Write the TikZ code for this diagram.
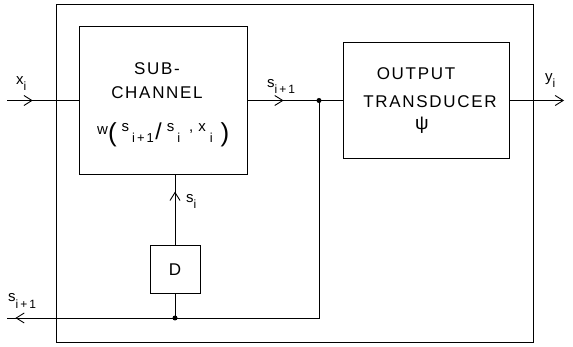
\documentclass[tikz,border=0pt]{standalone}
\usepackage{fontspec}
\setmainfont{Liberation Sans}
\newfontfamily\capsfont{Liberation Sans}[LetterSpace=10]
\usetikzlibrary{arrows.meta, decorations.markings, positioning}

\newcommand{\lsub}[1]{\raisebox{-6pt}{\fontsize{12}{12}\selectfont #1}}
\newcommand{\fsub}[1]{\raisebox{-8pt}{\fontsize{13}{13}\selectfont #1}}
\newcommand{\fup}[1]{\raisebox{3pt}{#1}}
\newcommand{\bigpar}[1]{\raisebox{-7pt}{\fontsize{26}{26}\selectfont #1}}
\newcommand{\ipl}{i\kern2pt+\kern2pt1}

\begin{document}
\begin{tikzpicture}[x=1pt, y=-1pt,
    blk/.style={rectangle, draw, line width=0.9pt, inner sep=0pt},
    wire/.style={line width=0.9pt},
    mid/.style={postaction={decorate}, decoration={markings,
        mark=at position #1 with {\arrow{Straight Barb[length=8pt, width=10pt, line width=0.9pt]}}}},
    dot/.style={circle, fill, inner sep=0pt, minimum size=5pt},
    caps/.style={font=\capsfont\fontsize{17}{17}\selectfont, inner sep=0pt, anchor=base},
    lbl/.style={font=\fontsize{15}{15}\selectfont, inner sep=0pt, anchor=base west}]

\useasboundingbox (0,0) rectangle (573,347);

%% Blocks: outer channel, sub-channel, output transducer, delay
\node[blk, minimum width=477, minimum height=338] (chan) at (294.5,173) {};
\node[blk, minimum width=168, minimum height=148] (sub)  at (163,100.5) {};
\node[blk, minimum width=166, minimum height=116] (tr)   at (426,100.5) {};
\node[blk, minimum width=50,  minimum height=48]  (dly)  at (175,269) {};

%% Block texts
\node[caps] (subA) at (157,75)  {SUB-};
\node[caps] (subB) at (157,99)  {CHANNEL};
\node[lbl, font=\fontsize{15}{15}\selectfont] (subC) at (97,135)
    {w\bigpar{(}\kern5pt\fup{s}\kern3pt\fsub{\ipl}\kern1.5pt\raisebox{-5pt}{\fontsize{23}{23}\selectfont/}\kern5pt\fup{s}\kern3pt\fsub{i}\kern9pt\fup{,}\kern5pt\fup{x}\kern4pt\fsub{i}\kern8pt\bigpar{)}};
\node[caps] (trA) at (416,80)  {OUTPUT};
\node[caps] (trB) at (430,108) {TRANSDUCER};
\node[inner sep=0pt, font=\fontsize{19}{19}\selectfont] (trC) at (422,125.5) {ψ};
\node[inner sep=0pt, font=\fontsize{17}{17}\selectfont] (dlyT) at (175,270) {D};

%% Free ends and junctions
\coordinate (xin)  at (7,100.5);
\coordinate (yout) at (564,100.5);
\coordinate (sout) at (7,318);
\node[dot] (j1) at (319,100.5) {};
\node[dot] (j2) at (175,318) {};

%% Connectors
\draw[wire, mid=0.36] (xin) -- (sub.west);
\draw[wire, mid=0.38] (sub.east) -- (tr.west);
\draw[wire, -{Straight Barb[length=8pt, width=10pt]}] (tr.east) -- (yout);
\draw[wire, mid=0.76] (dly.north) -- (dly.north |- sub.south);
\draw[wire] (j2.center) -- (dly.south);
\draw[wire] (j1.center) -- (j1.center |- j2.center) -- (j2.center);
\draw[wire, mid=0.95] (j2.center) -- (sout);

%% Labels
\node[lbl] (lx)  at (16,85)   {x\lsub{i}};
\node[lbl] (ls1) at (267,88)  {s\lsub{\ipl}};
\node[lbl] (ly)  at (545,82)  {y\lsub{i}};
\node[lbl] (ls2) at (186,203) {s\lsub{i}};
\node[lbl] (ls3) at (8,302)   {s\lsub{\ipl}};

\end{tikzpicture}
\end{document}
